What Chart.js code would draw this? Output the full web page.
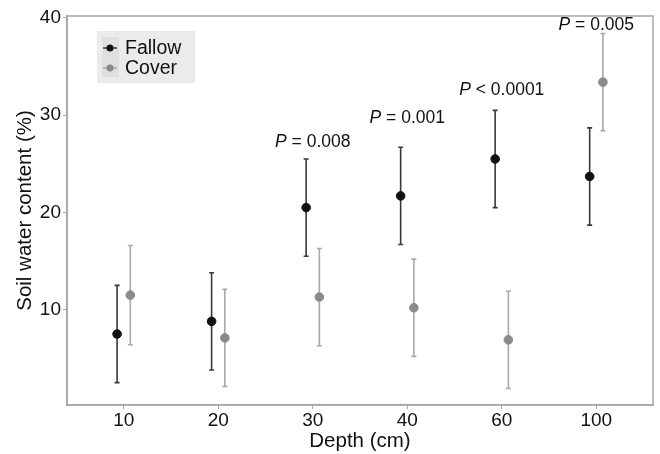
<!DOCTYPE html>
<html>
<head>
<meta charset="utf-8">
<script src="https://cdn.jsdelivr.net/npm/chart.js@4.4.1/dist/chart.umd.min.js"></script>
<style>
  html, body { margin: 0; padding: 0; background: #fff; }
  #wrap { width: 660px; height: 454px; }
</style>
</head>
<body>
<div id="wrap"><canvas id="chart"></canvas></div>
<script>
// depth categories (cm)
const depths = ['10', '20', '30', '40', '60', '100'];

// mean soil water content (%) and error (+/-)
const fallowMean = [7.5, 8.8, 20.5, 21.7, 25.5, 23.7];
const fallowErr = [5, 5, 5, 5, 5, 5];
const coverMean = [11.5, 7.1, 11.3, 10.2, 6.9, 33.4];
const coverErr = [5.1, 5, 5, 5, 5, 5];

// significance labels and the depth they sit over
const pLabels = [
  { cat: 2, op: '= 0.008', y: 27.2 },
  { cat: 3, op: '= 0.001', y: 29.7 },
  { cat: 4, op: '< 0.0001', y: 32.6 },
  { cat: 5, op: '= 0.005', y: 39.3 }
];

const FALLOW = '#111111';
const FALLOW_BAR = '#3a3a3a';
const COVER = '#8a8a8a';
const COVER_BAR = '#a8a8a8';
const FRAME = '#a6a6a6';
const FONT = '"Liberation Sans", Arial, sans-serif';
const dodge = 0.07;

const toPoints = (vals, shift) => vals.map((v, i) => ({ x: i + 1 + shift, y: v }));

// error bars, drawn under the points
const errorBars = {
  id: 'errorBars',
  beforeDatasetsDraw(chart) {
    const { ctx, scales: { x, y } } = chart;
    const sets = [
      { mean: fallowMean, err: fallowErr, shift: -dodge, color: FALLOW_BAR },
      { mean: coverMean, err: coverErr, shift: dodge, color: COVER_BAR }
    ];
    ctx.save();
    sets.forEach(s => {
      ctx.strokeStyle = s.color;
      ctx.lineWidth = 1.6;
      s.mean.forEach((m, i) => {
        const px = x.getPixelForValue(i + 1 + s.shift);
        const top = y.getPixelForValue(m + s.err[i]);
        const bot = y.getPixelForValue(m - s.err[i]);
        ctx.beginPath();
        ctx.moveTo(px, top); ctx.lineTo(px, bot);
        ctx.moveTo(px - 2.5, top); ctx.lineTo(px + 2.5, top);
        ctx.moveTo(px - 2.5, bot); ctx.lineTo(px + 2.5, bot);
        ctx.stroke();
      });
    });
    ctx.restore();
  }
};

// panel border, P labels and the inset legend
const decorations = {
  id: 'decorations',
  afterDraw(chart) {
    const { ctx, chartArea: a, scales: { x, y } } = chart;
    ctx.save();
    ctx.strokeStyle = FRAME;
    ctx.lineWidth = 1.5;
    ctx.strokeRect(a.left, a.top, a.right - a.left, a.bottom - a.top);

    ctx.fillStyle = '#111';
    ctx.textBaseline = 'middle';
    pLabels.forEach(p => {
      const cx = x.getPixelForValue(p.cat + 1);
      const cy = y.getPixelForValue(p.y);
      ctx.font = 'italic 17.5px ' + FONT;
      const wP = ctx.measureText('P').width;
      ctx.font = '17.5px ' + FONT;
      const rest = ' ' + p.op;
      const wR = ctx.measureText(rest).width;
      let sx = cx - (wP + wR) / 2;
      ctx.textAlign = 'left';
      ctx.font = 'italic 17.5px ' + FONT;
      ctx.fillText('P', sx, cy);
      ctx.font = '17.5px ' + FONT;
      ctx.fillText(rest, sx + wP, cy);
    });

    // legend box
    const lx = 97, ly = 31, lw = 98, lh = 52;
    ctx.fillStyle = '#ebebeb';
    ctx.fillRect(lx, ly, lw, lh);
    ctx.fillStyle = '#e0e0e0';
    ctx.fillRect(lx + 5, ly + 6, 17, 40);
    const items = [
      { label: 'Fallow', color: FALLOW, line: FALLOW_BAR },
      { label: 'Cover', color: COVER, line: COVER_BAR }
    ];
    items.forEach((it, i) => {
      const ky = ly + 17 + i * 20;
      const kx = lx + 13;
      ctx.strokeStyle = it.line;
      ctx.lineWidth = 1.5;
      ctx.beginPath();
      ctx.moveTo(kx - 7, ky); ctx.lineTo(kx + 7, ky);
      ctx.stroke();
      ctx.fillStyle = it.color;
      ctx.beginPath();
      ctx.arc(kx, ky, 3.5, 0, Math.PI * 2);
      ctx.fill();
      ctx.fillStyle = '#111';
      ctx.font = '19.5px ' + FONT;
      ctx.textAlign = 'left';
      ctx.fillText(it.label, lx + 28, ky + 1);
    });
    ctx.restore();
  }
};

new Chart(document.getElementById('chart'), {
  type: 'scatter',
  data: {
    datasets: [
      {
        label: 'Fallow',
        data: toPoints(fallowMean, -dodge),
        backgroundColor: FALLOW,
        borderColor: FALLOW,
        pointRadius: 4.3,
        pointHoverRadius: 4.3
      },
      {
        label: 'Cover',
        data: toPoints(coverMean, dodge),
        backgroundColor: COVER,
        borderColor: COVER,
        pointRadius: 4.3,
        pointHoverRadius: 4.3
      }
    ]
  },
  options: {
    responsive: true,
    maintainAspectRatio: false,
    animation: false,
    layout: { padding: { top: 16, right: 7, left: 5, bottom: 0 } },
    plugins: {
      legend: { display: false },
      tooltip: { enabled: false }
    },
    scales: {
      x: {
        type: 'linear',
        min: 0.4,
        max: 6.6,
        afterBuildTicks: s => { s.ticks = depths.map((d, i) => ({ value: i + 1 })); },
        afterFit: s => { s.height = 49; },
        ticks: {
          callback: (v) => depths[Math.round(v) - 1],
          color: '#111',
          font: { family: FONT, size: 19 },
          padding: 0,
          maxRotation: 0
        },
        grid: { drawOnChartArea: false, drawTicks: true, tickLength: 4, tickColor: FRAME },
        border: { color: FRAME, width: 1.5 },
        title: {
          display: true,
          text: 'Depth (cm)',
          color: '#111',
          font: { family: FONT, size: 20.5 },
          padding: { top: 0, bottom: 0 }
        }
      },
      y: {
        type: 'linear',
        min: 0.2,
        max: 40.2,
        afterBuildTicks: s => { s.ticks = [10, 20, 30, 40].map(v => ({ value: v })); },
        afterFit: s => { s.width = 62; },
        ticks: {
          color: '#111',
          font: { family: FONT, size: 19 },
          padding: 2
        },
        grid: { drawOnChartArea: false, drawTicks: true, tickLength: 4, tickColor: FRAME },
        border: { color: FRAME, width: 1.5 },
        title: {
          display: true,
          text: 'Soil water content (%)',
          color: '#111',
          font: { family: FONT, size: 20.5 },
          padding: { top: 8, bottom: 0 }
        }
      }
    }
  },
  plugins: [errorBars, decorations]
});
</script>
</body>
</html>
